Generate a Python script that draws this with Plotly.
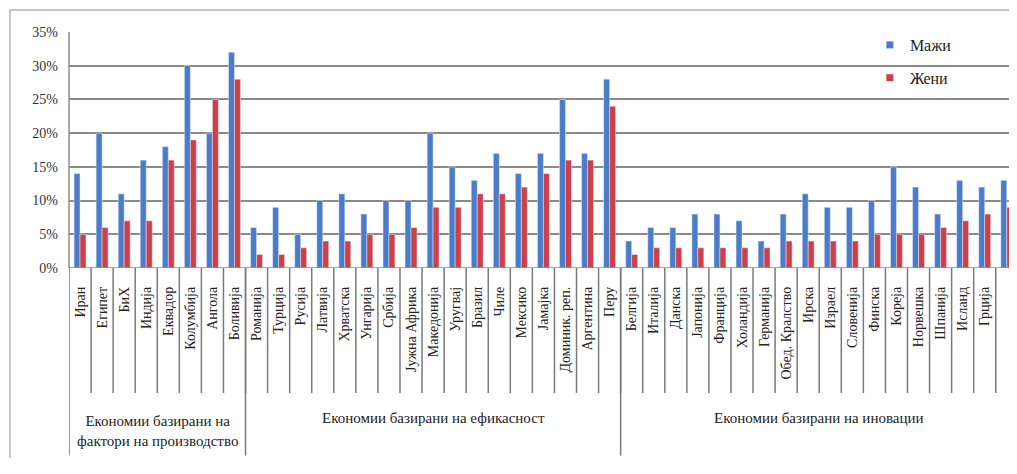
import plotly.graph_objects as go

countries_factor = ["Иран", "Египет", "БиХ", "Индија", "Еквадор", "Колумбија", "Ангола", "Боливија"]
men_factor = [14, 20, 11, 16, 18, 30, 20, 32]
women_factor = [5, 6, 7, 7, 16, 19, 25, 28]

countries_eff = ["Романија", "Турција", "Русија", "Латвија", "Хрватска", "Унгарија", "Србија",
                 "Јужна Африка", "Македонија", "Уругвај", "Бразил", "Чиле", "Мексико", "Јамајка",
                 "Доминик. реп.", "Аргентина", "Перу"]
men_eff = [6, 9, 5, 10, 11, 8, 10, 10, 20, 15, 13, 17, 14, 17, 25, 17, 28]
women_eff = [2, 2, 3, 4, 4, 5, 5, 6, 9, 9, 11, 11, 12, 14, 16, 16, 24]

countries_inn = ["Белгија", "Италија", "Данска", "Јапонија", "Франција", "Холандија", "Германија",
                 "Обед. Кралство", "Ирска", "Израел", "Словенија", "Финска", "Кореја", "Норвешка",
                 "Шпанија", "Исланд", "Грција", "САД"]
men_inn = [4, 6, 6, 8, 8, 7, 4, 8, 11, 9, 9, 10, 15, 12, 8, 13, 12, 13]
women_inn = [2, 3, 3, 3, 3, 3, 3, 4, 4, 4, 4, 5, 5, 5, 6, 7, 8, 9]

group_labels = ["Економии базирани на<br>фактори на производство",
                "Економии базирани на ефикасност",
                "Економии базирани на иновации"]
series_names = ["Мажи", "Жени"]
y_ticks = [0, 5, 10, 15, 20, 25, 30, 35]

BLUE = "#4a7cc9"
RED = "#cf3f47"
GRID = "#8a8a8a"
FONT = "Times New Roman, Liberation Serif, DejaVu Serif, serif"

groups = [countries_factor, countries_eff, countries_inn]
countries = countries_factor + countries_eff + countries_inn
men = men_factor + men_eff + men_inn
women = women_factor + women_eff + women_inn
idx = list(range(len(countries)))

fig = go.Figure()
fig.add_trace(go.Bar(x=idx, y=men, marker_color=BLUE, showlegend=False, name=series_names[0]))
fig.add_trace(go.Bar(x=idx, y=women, marker_color=RED, showlegend=False, name=series_names[1]))
# legend entries with small square symbols
fig.add_trace(go.Scatter(x=[None], y=[None], mode="markers", name=series_names[0],
                         marker=dict(symbol="square", size=7, color=BLUE), legendgroup="m"))
fig.add_trace(go.Scatter(x=[None], y=[None], mode="markers", name=series_names[1],
                         marker=dict(symbol="square", size=7, color=RED), legendgroup="f"))

shapes = []
# short dividers between countries
for i in range(1, len(countries)):
    shapes.append(dict(type="line", xref="x", yref="paper", x0=i - 0.5, x1=i - 0.5,
                       y0=0, y1=-0.53, line=dict(color="#7a7a7a", width=1.5)))
# long group dividers
start = 0
bounds = [0]
for g in groups:
    start += len(g)
    bounds.append(start)
for b in bounds[:-1]:
    shapes.append(dict(type="line", xref="x", yref="paper", x0=b - 0.5, x1=b - 0.5,
                       y0=0, y1=-0.795, line=dict(color="#7a7a7a", width=1.5)))
# outer frame
shapes.append(dict(type="rect", xref="paper", yref="paper", x0=-0.0628, x1=1.05,
                   y0=-0.83, y1=1.093, line=dict(color="#b4b4b4", width=1.5),
                   fillcolor="rgba(0,0,0,0)", layer="below"))

annotations = []
for gi, g in enumerate(groups):
    center = (bounds[gi] + bounds[gi + 1] - 1) / 2
    yp = -0.69 if gi == 0 else -0.635
    annotations.append(dict(x=center, y=yp, xref="x", yref="paper", text=group_labels[gi],
                            showarrow=False, font=dict(family=FONT, size=15, color="#222"),
                            align="center", yanchor="middle"))

fig.update_layout(
    width=1001, height=450,
    margin=dict(l=61, r=0, t=24, b=190),
    paper_bgcolor="white", plot_bgcolor="white",
    barmode="group", bargap=0.46, bargroupgap=0,
    font=dict(family=FONT, size=13, color="#222"),
    shapes=shapes, annotations=annotations,
    legend=dict(x=0.852, y=1.017, xanchor="left", yanchor="top", bgcolor="rgba(0,0,0,0)",
                font=dict(family=FONT, size=16, color="#222"), tracegroupgap=9,
                itemwidth=30),
    xaxis=dict(range=[-0.5, 42.1], tickmode="array", tickvals=idx, ticktext=countries,
               tickangle=-90, showgrid=False, zeroline=False, showline=False,
               ticks="", tickfont=dict(family=FONT, size=14, color="#222"),
               ticklabelstandoff=15, automargin=False),
    yaxis=dict(range=[0, 35], tickmode="array", tickvals=y_ticks,
               ticktext=[f"{v}%" for v in y_ticks], showgrid=True, gridcolor=GRID,
               gridwidth=1.5, zeroline=False, showline=False, ticks="",
               tickfont=dict(family=FONT, size=14, color="#333"), ticklabelstandoff=10,
               automargin=False),
)
fig.add_shape(type="line", xref="paper", yref="y", x0=0, x1=1, y0=0, y1=0,
              line=dict(color=GRID, width=1.5))
fig.add_shape(type="line", xref="paper", yref="paper", x0=0, x1=0, y0=1, y1=0,
              line=dict(color=GRID, width=1.5))

fig.write_html("out.html")
